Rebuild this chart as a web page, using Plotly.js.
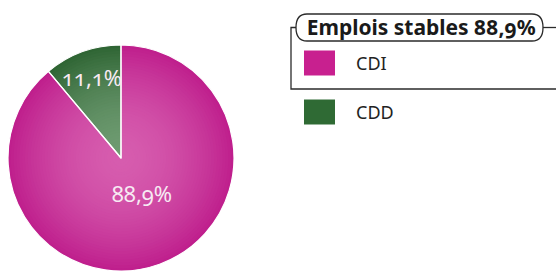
<!DOCTYPE html>
<html>
<head>
<meta charset="utf-8">
<script src="https://cdn.plot.ly/plotly-3.0.1.min.js"></script>
<style>
html,body{margin:0;padding:0;background:#fff;}
#chart{width:556px;height:271px;}
#chart text{font-feature-settings:"onum" 1;}
</style>
</head>
<body>
<div id="chart"></div>
<script>
// ---- data ----
const labels = ['CDI', 'CDD'];
const values = [88.9, 11.1];
const groupTitle = 'Emplois stables';
const groupShare = 88.9;

// ---- styles ----
const W = 556, H = 271;
const edgeCols = [[190, 30, 140], [46, 100, 51]];
const centerCols = [[214, 92, 174], [110, 155, 113]];
const swatchCols = ['#c8208f', '#2f6a34'];
const labelRadius = [0.33, 0.76];   // fraction of radius for value labels
const labelXShift = [8, 0];
const fmt = v => v.toFixed(1).replace('.', ',') + '%';

const cx = 121, cyTop = 158, cyFromBottom = 113, R = 113;
function domainFor(r) {
  return {x: [(cx - r) / W, (cx + r) / W], y: [(cyFromBottom - r) / H, (cyFromBottom + r) / H]};
}
function mix(a, b, t) {
  return 'rgb(' + a.map((v, i) => Math.round(v + (b[i] - v) * t)).join(',') + ')';
}

const traces = [];
const N = 40;
for (let k = 0; k < N; k++) {
  const f = 1 - k / N;
  const s = Math.max(0, f - 0.5 / N);
  const t = 1 - Math.pow(s, 1.8); // 0 at edge, 1 at center
  traces.push({
    type: 'pie', labels: labels, values: values, sort: false,
    direction: 'clockwise', rotation: 0,
    domain: domainFor(R * f),
    marker: {colors: edgeCols.map((e, i) => mix(e, centerCols[i], t)), line: {width: 0}},
    textinfo: 'none', hoverinfo: 'skip', showlegend: false
  });
}
// overlay with separators
traces.push({
  type: 'pie', labels: labels, values: values, sort: false,
  direction: 'clockwise', rotation: 0,
  domain: domainFor(R),
  marker: {colors: ['rgba(0,0,0,0)', 'rgba(0,0,0,0)'], line: {color: '#ffffff', width: 1.2}},
  textinfo: 'none', hoverinfo: 'skip', showlegend: false
});

// pixel -> paper helpers
const px = x => x / W;
const py = y => 1 - y / H;
const P = (x, y) => px(x).toFixed(5) + ',' + py(y).toFixed(5);

const shapes = [];
const annotations = [];

// value labels on the bisector of each slice
const total = values.reduce((a, b) => a + b, 0);
let acc = 0;
values.forEach((v, i) => {
  const mid = (acc + v / 2) / total * 2 * Math.PI; // clockwise from top
  acc += v;
  const r = R * labelRadius[i];
  const x = cx + r * Math.sin(mid);
  const y = cyTop - r * Math.cos(mid);
  annotations.push({
    xref: 'paper', yref: 'paper', x: px(x), y: py(y), xanchor: 'center', yanchor: 'middle',
    xshift: labelXShift[i],
    text: fmt(v), showarrow: false,
    font: {family: 'Noto Sans', size: 22, color: '#f7eaf3'}
  });
});

// group title box (rounded)
const bx0 = 296, bx1 = 543, by0 = 14, by1 = 41, rr = 11, bym = (by0 + by1) / 2;
shapes.push({
  type: 'path', xref: 'paper', yref: 'paper',
  path: 'M' + P(bx0 + rr, by0) + ' L' + P(bx1 - rr, by0) +
        ' Q' + P(bx1, by0) + ' ' + P(bx1, bym) +
        ' Q' + P(bx1, by1) + ' ' + P(bx1 - rr, by1) +
        ' L' + P(bx0 + rr, by1) +
        ' Q' + P(bx0, by1) + ' ' + P(bx0, bym) +
        ' Q' + P(bx0, by0) + ' ' + P(bx0 + rr, by0) + ' Z',
  line: {color: '#2b2b2b', width: 1.3}, fillcolor: 'rgba(0,0,0,0)'
});
// bracket lines
shapes.push({
  type: 'path', xref: 'paper', yref: 'paper',
  path: 'M' + P(bx0, bym) + ' L' + P(291, bym) + ' L' + P(291, 89) + ' L' + P(556, 89),
  line: {color: '#2b2b2b', width: 1.3}
});
shapes.push({
  type: 'path', xref: 'paper', yref: 'paper',
  path: 'M' + P(bx1, bym) + ' L' + P(556, bym),
  line: {color: '#2b2b2b', width: 1.3}
});
annotations.push({
  xref: 'paper', yref: 'paper', x: px(421), y: py(bym), xanchor: 'center', yanchor: 'middle',
  text: '<b>' + groupTitle + ' ' + fmt(groupShare) + '</b>', showarrow: false,
  font: {family: 'Noto Sans', size: 21, color: '#1a1a1a'}
});
// legend entries
const rowY = [63, 112];
labels.forEach((lab, i) => {
  const yc = rowY[i];
  shapes.push({
    type: 'rect', xref: 'paper', yref: 'paper',
    x0: px(304), x1: px(335), y0: py(yc - 12.5), y1: py(yc + 12.5),
    fillcolor: swatchCols[i], line: {width: 0}
  });
  annotations.push({
    xref: 'paper', yref: 'paper', x: px(354), y: py(yc), xanchor: 'left', yanchor: 'middle',
    text: lab, showarrow: false,
    font: {family: 'Noto Sans', size: 18, color: '#222222'}
  });
});

const layout = {
  width: W, height: H,
  margin: {l: 0, r: 0, t: 0, b: 0},
  paper_bgcolor: '#ffffff',
  showlegend: false,
  shapes: shapes,
  annotations: annotations
};
Plotly.newPlot('chart', traces, layout, {staticPlot: true, displayModeBar: false});
</script>
</body>
</html>
